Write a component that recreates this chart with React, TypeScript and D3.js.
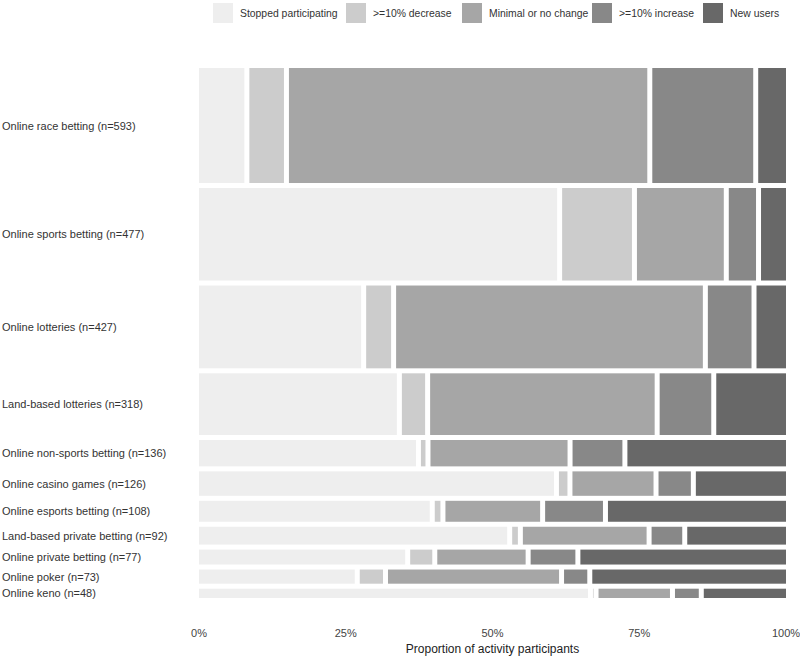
import { useEffect, useRef } from "react";
import * as d3 from "d3";

const categories = [
  "Online race betting",
  "Online sports betting",
  "Online lotteries",
  "Land-based lotteries",
  "Online non-sports betting",
  "Online casino games",
  "Online esports betting",
  "Land-based private betting",
  "Online private betting",
  "Online poker",
  "Online keno",
];
const nValues = [593, 477, 427, 318, 136, 126, 108, 92, 77, 73, 48];

// percentages of participants per change group
const stopped = [8.0, 63.1, 28.6, 34.9, 38.3, 62.6, 40.7, 54.3, 36.4, 27.5, 68.6];
const decrease = [6.1, 12.3, 4.4, 4.1, 0.8, 1.5, 1.0, 1.0, 3.9, 4.1, 0.1];
const minimal = [63.2, 15.3, 54.1, 39.6, 24.2, 14.3, 16.7, 21.8, 15.6, 30.2, 12.6];
const increase = [17.8, 4.8, 7.7, 9.1, 8.8, 5.7, 10.2, 5.4, 7.9, 4.1, 4.2];
const newUsers = [4.9, 4.4, 5.2, 12.3, 28.0, 15.9, 31.4, 17.4, 36.3, 34.2, 14.5];

const groups = [
  "Stopped participating",
  ">=10% decrease",
  "Minimal or no change",
  ">=10% increase",
  "New users",
];
const colors = ["#eeeeee", "#cccccc", "#a6a6a6", "#888888", "#686868"];
const ticks = [0, 0.25, 0.5, 0.75, 1];

const App = () => {
  const ref = useRef<SVGSVGElement>(null);

  useEffect(() => {
    const svg = d3.select(ref.current);
    svg.selectAll("*").remove();

    const left = 199, right = 786, top = 68, bottom = 598;
    const gap = 5;
    const font = "Liberation Sans, Arial, sans-serif";

    const x = d3.scaleLinear().domain([0, 1]).range([left, right]);
    const total = d3.sum(nValues);
    const yh = d3
      .scaleLinear()
      .domain([0, total])
      .range([0, bottom - top - gap * (nValues.length - 1)]);
    const xw = d3
      .scaleLinear()
      .domain([0, 1])
      .range([0, right - left - gap * (groups.length - 1)]);

    const series = [stopped, decrease, minimal, increase, newUsers];

    let cumN = 0;
    categories.forEach((cat, i) => {
      const y0 = top + yh(cumN) + i * gap;
      const h = yh(nValues[i]);
      cumN += nValues[i];

      const vals = series.map((s) => s[i]);
      const rowSum = d3.sum(vals);
      let cum = 0;
      vals.forEach((v, j) => {
        const p = v / rowSum;
        svg
          .append("rect")
          .attr("x", left + xw(cum) + j * gap)
          .attr("y", y0)
          .attr("width", Math.max(0.6, xw(p)))
          .attr("height", h)
          .attr("fill", colors[j]);
        cum += p;
      });

      svg
        .append("text")
        .attr("x", 2)
        .attr("y", y0 + h / 2)
        .attr("dominant-baseline", "central")
        .style("font-family", font)
        .style("font-size", "11px")
        .style("fill", "#333")
        .text(`${cat} (n=${nValues[i]})`);
    });

    // x tick labels
    svg
      .selectAll(".tick")
      .data(ticks)
      .enter()
      .append("text")
      .attr("x", (d) => x(d))
      .attr("y", 633)
      .attr("text-anchor", "middle")
      .attr("dominant-baseline", "central")
      .style("font-family", font)
      .style("font-size", "11px")
      .style("fill", "#444")
      .text((d) => d3.format(".0%")(d));

    svg
      .append("text")
      .attr("x", x(0.5))
      .attr("y", 649)
      .attr("text-anchor", "middle")
      .attr("dominant-baseline", "central")
      .style("font-family", font)
      .style("font-size", "12px")
      .style("fill", "#222")
      .text("Proportion of activity participants");

    // legend
    const legendX = [213, 346, 462, 592, 703];
    groups.forEach((g, j) => {
      svg
        .append("rect")
        .attr("x", legendX[j])
        .attr("y", 3)
        .attr("width", 20)
        .attr("height", 20)
        .attr("fill", colors[j]);
      svg
        .append("text")
        .attr("x", legendX[j] + 27)
        .attr("y", 13)
        .attr("dominant-baseline", "central")
        .style("font-family", font)
        .style("font-size", "10.4px")
        .style("fill", "#333")
        .text(g);
    });
  }, []);

  return (
    <svg
      ref={ref}
      width={800}
      height={657}
      style={{ position: "absolute", left: 0, top: 0, background: "#fff" }}
    />
  );
};

export default App;
